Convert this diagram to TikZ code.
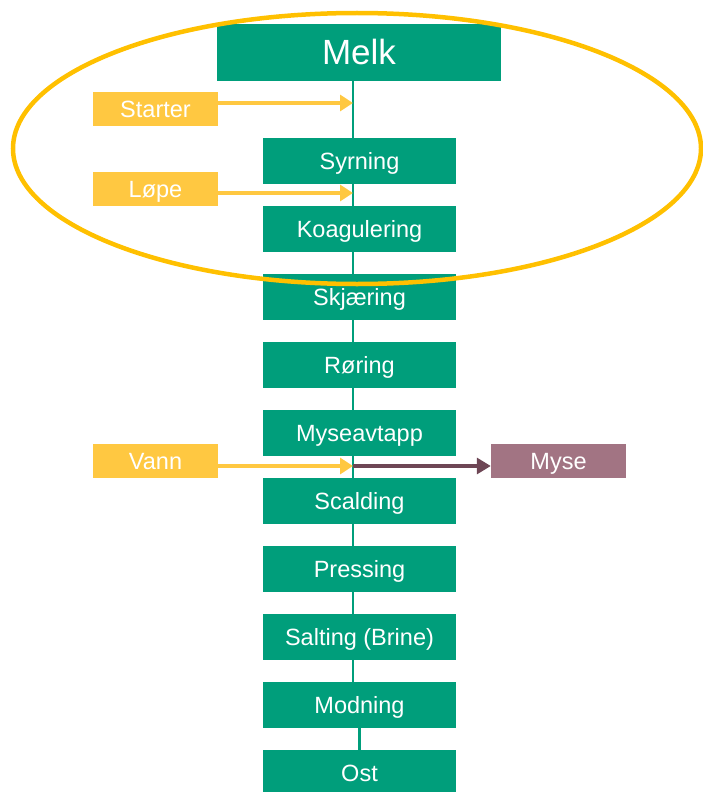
\documentclass[tikz,border=0pt]{standalone}
\usepackage{fontspec}
\setmainfont{Liberation Sans}
\usetikzlibrary{arrows.meta}
\definecolor{stepgreen}{RGB}{0,158,123}
\definecolor{feedyellow}{RGB}{255,200,65}
\definecolor{ringorange}{RGB}{255,192,0}
\definecolor{whey}{RGB}{162,116,131}
\definecolor{wheyline}{RGB}{110,70,85}
\begin{document}
\begin{tikzpicture}[x=1pt,y=-1pt,
  basefont/.style={font=\fontsize{23.5}{28}\selectfont, text height=16.8pt, text depth=0pt, inner sep=0pt, text=white},
  proc/.style={basefont, fill=stepgreen, minimum width=193pt, minimum height=46pt},
  headbox/.style={fill=stepgreen, text=white, inner sep=0pt, minimum width=284pt, minimum height=57pt, font=\fontsize{35}{40}\selectfont, text height=25pt, text depth=0pt},
  feedbox/.style={basefont, fill=feedyellow, minimum width=125pt, minimum height=34pt},
  wheybox/.style={basefont, fill=whey, minimum width=135pt, minimum height=34pt},
  spine/.style={draw=stepgreen, line width=2.2pt},
  feed/.style={draw=feedyellow, line width=3.2pt, -{Triangle[length=13pt,width=16pt]}},
  wheyarrow/.style={draw=wheyline, line width=3.2pt, -{Triangle[length=14pt,width=16pt]}},
  ring/.style={draw=ringorange, line width=4.5pt}
]
\clip (0,0) rectangle (703,792);
\path[use as bounding box] (0,0) rectangle (703,792);

\coordinate (sp) at (353,0);
\coordinate (j1) at (353,103);
\coordinate (j2) at (353,193);
\coordinate (j3) at (353,466);

\node[headbox] (melk) at (359,52.5) {Melk};
\node[proc] (syrning) at (359.5,161) {Syrning};
\node[proc] (koag) at (359.5,229) {Koagulering};
\node[proc] (skjaering) at (359.5,297) {Skjæring};
\node[proc] (roring) at (359.5,365) {Røring};
\node[proc] (myseav) at (359.5,433) {Myseavtapp};
\node[proc] (scalding) at (359.5,501) {Scalding};
\node[proc] (pressing) at (359.5,569) {Pressing};
\node[proc] (salting) at (359.5,637) {Salting (Brine)};
\node[proc] (modning) at (359.5,705) {Modning};
\node[proc] (ost) at (359.5,773) {Ost};

\node[feedbox] (starter) at (155.5,109) {Starter};
\node[feedbox] (lope) at (155.5,189) {Løpe};
\node[feedbox] (vann) at (155.5,461) {Vann};
\node[wheybox] (myse) at (558.5,461) {Myse};

\draw[spine] (melk.south -| sp) -- (syrning.north -| sp);
\draw[spine] (syrning.south -| sp) -- (koag.north -| sp);
\draw[spine] (koag.south -| sp) -- (skjaering.north -| sp);
\draw[spine] (skjaering.south -| sp) -- (roring.north -| sp);
\draw[spine] (roring.south -| sp) -- (myseav.north -| sp);
\draw[spine] (myseav.south -| sp) -- (scalding.north -| sp);
\draw[spine] (scalding.south -| sp) -- (pressing.north -| sp);
\draw[spine] (pressing.south -| sp) -- (salting.north -| sp);
\draw[spine] (salting.south -| sp) -- (modning.north -| sp);
\draw[spine] (modning.south) -- (ost.north);

\draw[feed] (starter.east |- j1) -- (j1);
\draw[feed] (lope.east |- j2) -- (j2);
\draw[feed] (vann.east |- j3) -- (j3);
\draw[wheyarrow] (j3) -- (myse.west |- j3);

\draw[ring] (357,148.5) ellipse [x radius=344pt, y radius=135.5pt];
\end{tikzpicture}
\end{document}
